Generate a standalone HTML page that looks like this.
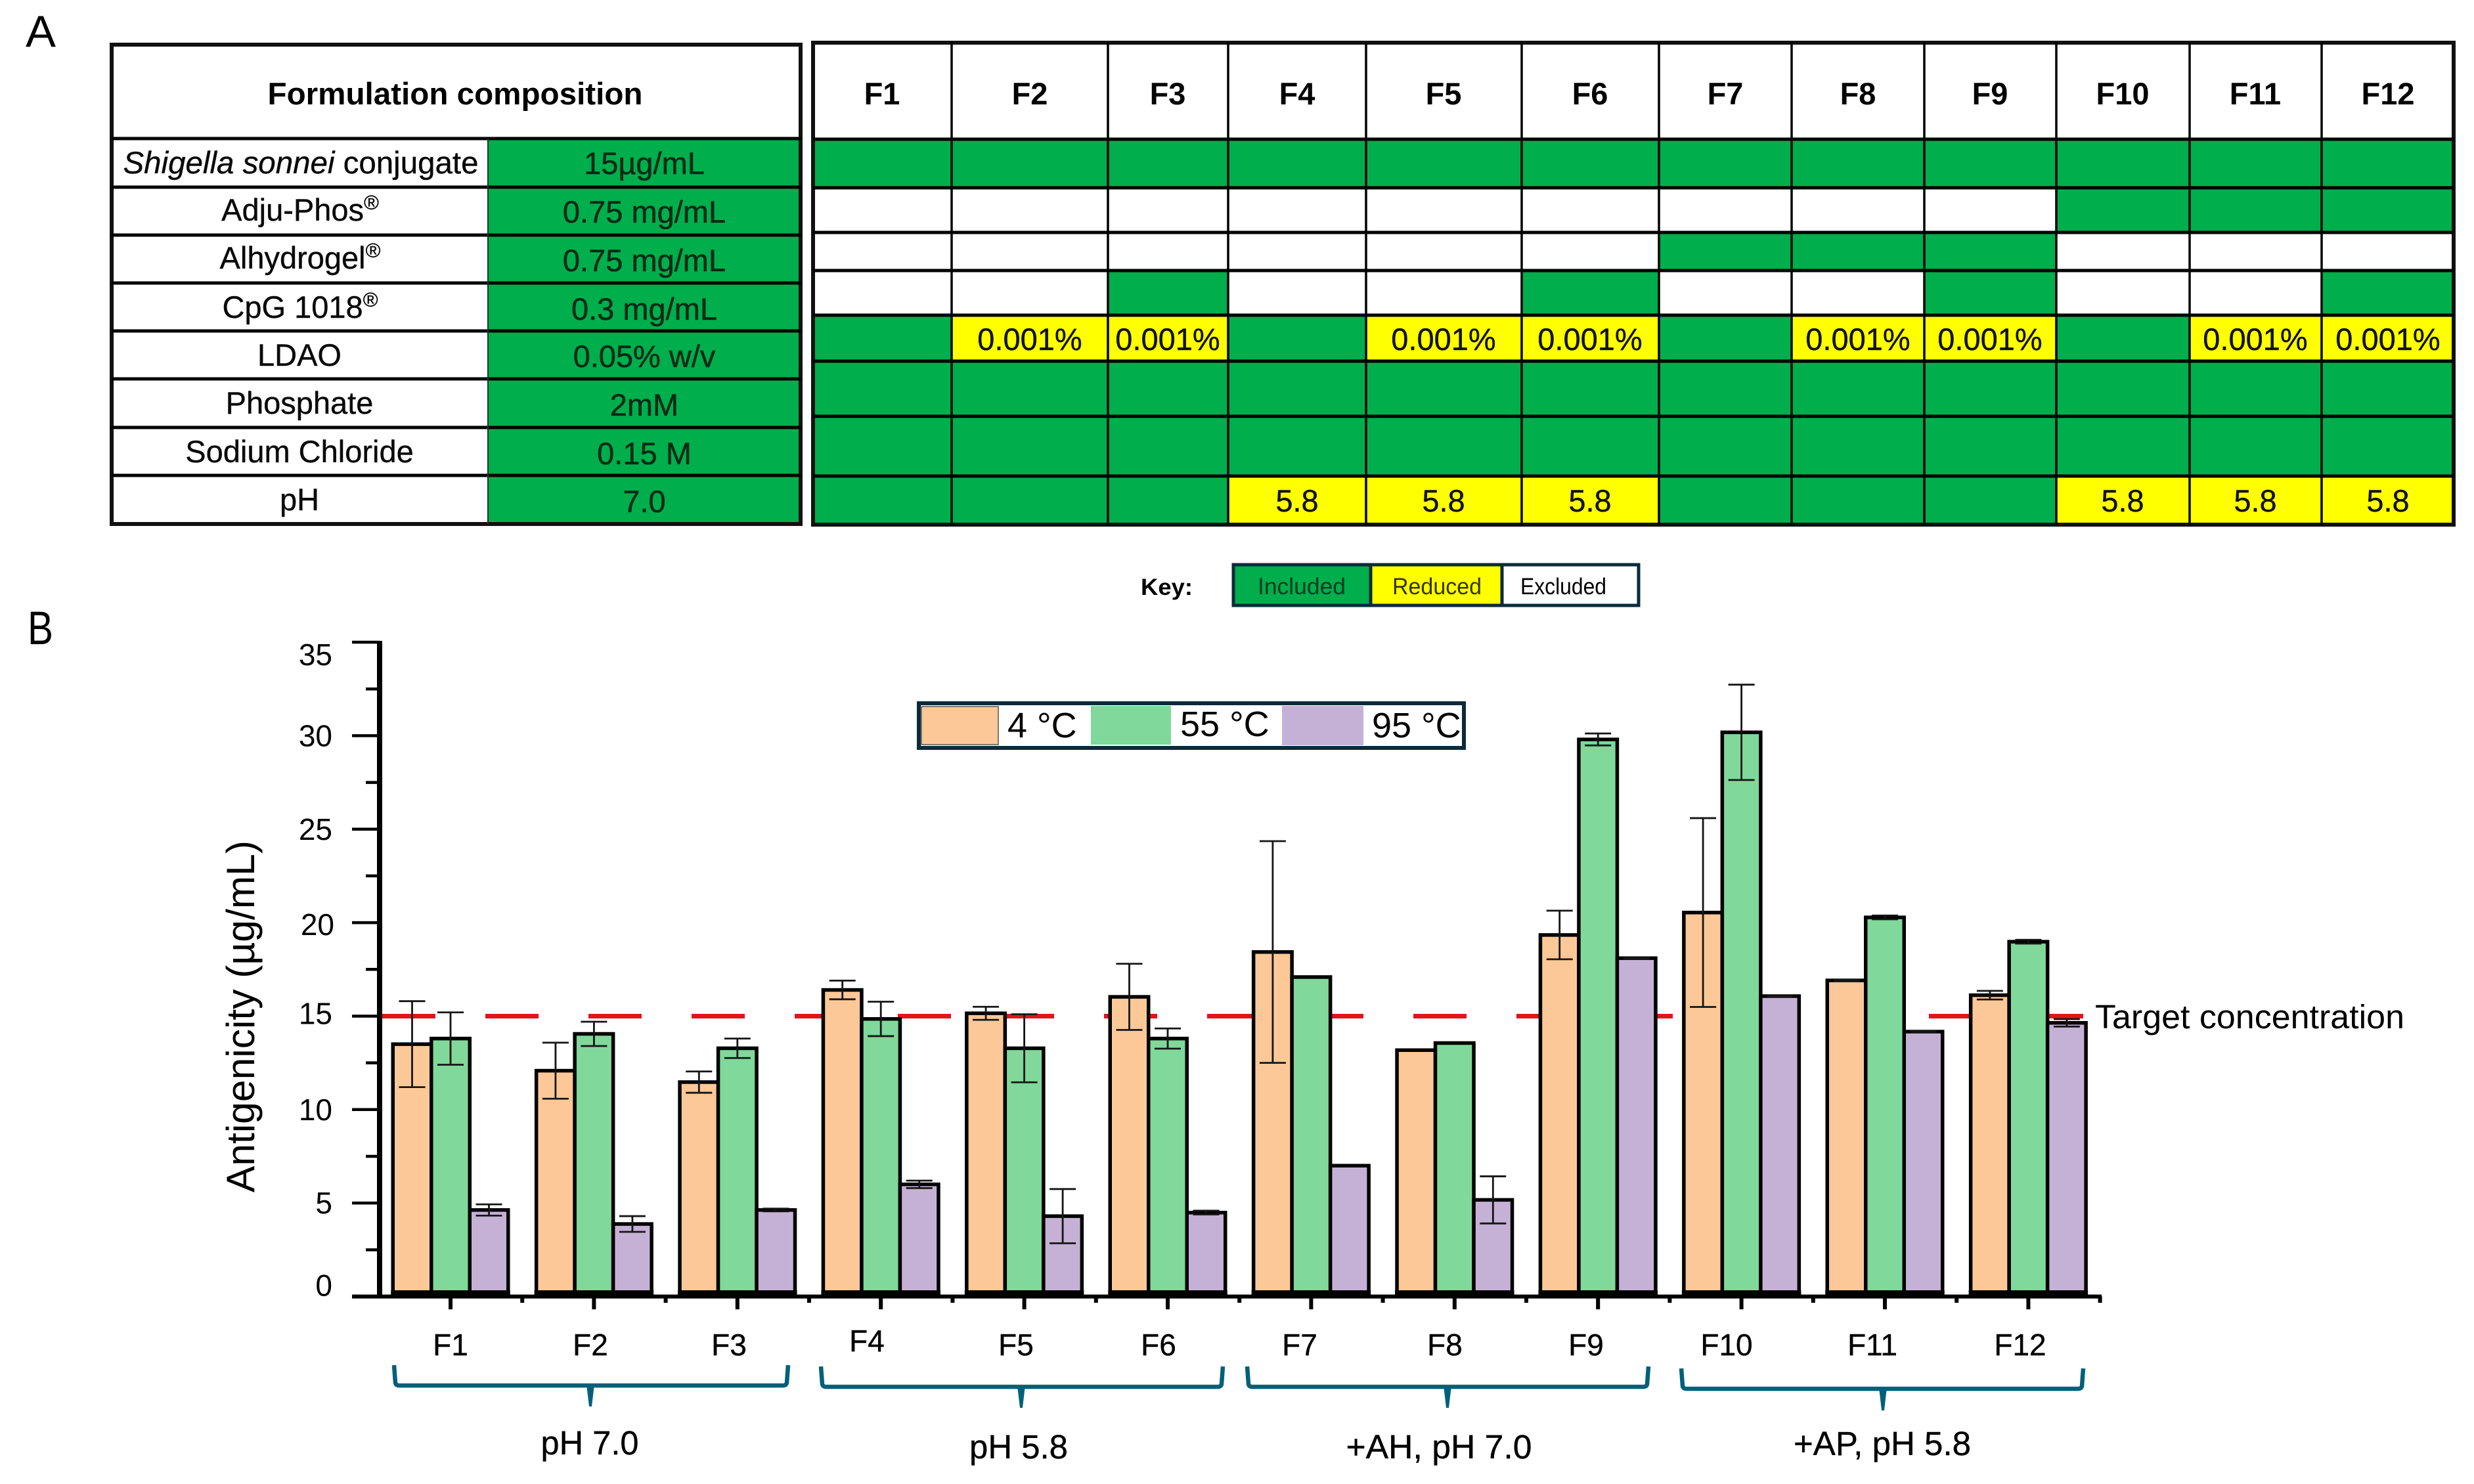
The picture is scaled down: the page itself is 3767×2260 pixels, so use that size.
<!DOCTYPE html>
<html lang="en">
<head>
<meta charset="utf-8">
<title>Formulation composition and antigenicity</title>
<style>
html,body{margin:0;padding:0;background:#fff;}
svg{display:block;font-family:"Liberation Sans",Arial,sans-serif;}
text{fill:#000;}
.rl{font-size:47px;text-anchor:middle;fill:#0a0a0a;stroke:#0a0a0a;stroke-width:.4;}
.rv{font-size:47px;text-anchor:middle;fill:#042a16;stroke:#042a16;stroke-width:.5;}
.hd{font-size:47px;font-weight:bold;text-anchor:middle;}
.yc{font-size:47px;text-anchor:middle;fill:#111;stroke:#111;stroke-width:.4;}
.gl{stroke:#000;stroke-width:5;fill:none;}
.xl{font-size:46px;text-anchor:middle;fill:#000;stroke:#000;stroke-width:.4;}
.grp{font-size:51px;text-anchor:middle;fill:#000;stroke:#000;stroke-width:.4;}
.br{stroke:#00607a;fill:none;stroke-width:6.5;}
.brt{fill:#00607a;stroke:none;}
.sup{font-size:31px;}
</style>
</head>
<body>
<svg id="figure" xmlns="http://www.w3.org/2000/svg" width="3767" height="2260" viewBox="0 0 3767 2260">
<rect x="0" y="0" width="3767" height="2260" fill="#fff"/>

<text x="39" y="71" font-size="68" textLength="46" lengthAdjust="spacingAndGlyphs">A</text>
<text x="42" y="981" font-size="71" textLength="39" lengthAdjust="spacingAndGlyphs">B</text>

<!-- Left composition table -->
<g>
<rect x="743" y="211" width="476" height="587" fill="#00ae4c"/>
<g>
<rect x="170" y="68" width="1049" height="730" fill="none" stroke="#111" stroke-width="6"/>
<line class="gl" stroke-width="6" x1="170" x2="1219" y1="211" y2="211"/>
<line class="gl" x1="170" x2="1219" y1="285" y2="285"/>
<line class="gl" x1="170" x2="1219" y1="358" y2="358"/>
<line class="gl" x1="170" x2="1219" y1="431" y2="431"/>
<line class="gl" x1="170" x2="1219" y1="504" y2="504"/>
<line class="gl" x1="170" x2="1219" y1="577" y2="577"/>
<line class="gl" x1="170" x2="1219" y1="651" y2="651"/>
<line class="gl" x1="170" x2="1219" y1="724" y2="724"/>
<line x1="743" x2="743" y1="211" y2="798" stroke="#0a3a20" stroke-width="2"/>
</g>
<text x="693" y="159" class="hd" textLength="571" lengthAdjust="spacingAndGlyphs">Formulation composition</text>
<text x="458" y="264" class="rl" textLength="541" lengthAdjust="spacingAndGlyphs"><tspan font-style="italic">Shigella sonnei</tspan> conjugate</text>
<text x="457" y="336" class="rl">Adju-Phos<tspan class="sup" dy="-17">®</tspan></text>
<text x="457" y="409" class="rl">Alhydrogel<tspan class="sup" dy="-17">®</tspan></text>
<text x="457" y="484" class="rl">CpG 1018<tspan class="sup" dy="-17">®</tspan></text>
<text x="456" y="557" class="rl">LDAO</text>
<text x="456" y="630" class="rl">Phosphate</text>
<text x="456" y="704" class="rl">Sodium Chloride</text>
<text x="456" y="777" class="rl">pH</text>
<text x="981" y="265" class="rv">15µg/mL</text>
<text x="981" y="339" class="rv">0.75 mg/mL</text>
<text x="981" y="413" class="rv">0.75 mg/mL</text>
<text x="981" y="487" class="rv">0.3 mg/mL</text>
<text x="981" y="559" class="rv">0.05% w/v</text>
<text x="981" y="633" class="rv">2mM</text>
<text x="981" y="707" class="rv">0.15 M</text>
<text x="981" y="780" class="rv">7.0</text>
</g>

<!-- Right formulation matrix -->
<g>
<g id="matrix-cells"></g>
<g>
<rect x="1238" y="65" width="2498" height="734" fill="none" stroke="#111" stroke-width="6"/>
<line class="gl" x1="1238" x2="3736" y1="212" y2="212"/>
<line class="gl" x1="1238" x2="3736" y1="286" y2="286"/>
<line class="gl" x1="1238" x2="3736" y1="354" y2="354"/>
<line class="gl" x1="1238" x2="3736" y1="412" y2="412"/>
<line class="gl" x1="1238" x2="3736" y1="480" y2="480"/>
<line class="gl" x1="1238" x2="3736" y1="550" y2="550"/>
<line class="gl" x1="1238" x2="3736" y1="634" y2="634"/>
<line class="gl" x1="1238" x2="3736" y1="725" y2="725"/>
<line class="gl" style="stroke-width:3.5" x1="1449" x2="1449" y1="65" y2="799"/>
<line class="gl" style="stroke-width:3.5" x1="1687" x2="1687" y1="65" y2="799"/>
<line class="gl" style="stroke-width:3.5" x1="1870" x2="1870" y1="65" y2="799"/>
<line class="gl" style="stroke-width:3.5" x1="2080" x2="2080" y1="65" y2="799"/>
<line class="gl" style="stroke-width:3.5" x1="2317" x2="2317" y1="65" y2="799"/>
<line class="gl" style="stroke-width:3.5" x1="2526" x2="2526" y1="65" y2="799"/>
<line class="gl" style="stroke-width:3.5" x1="2728" x2="2728" y1="65" y2="799"/>
<line class="gl" style="stroke-width:3.5" x1="2930" x2="2930" y1="65" y2="799"/>
<line class="gl" style="stroke-width:3.5" x1="3131" x2="3131" y1="65" y2="799"/>
<line class="gl" style="stroke-width:3.5" x1="3334" x2="3334" y1="65" y2="799"/>
<line class="gl" style="stroke-width:3.5" x1="3535" x2="3535" y1="65" y2="799"/>
</g>
<text x="1343" y="159" class="hd">F1</text>
<text x="1568" y="159" class="hd">F2</text>
<text x="1778" y="159" class="hd">F3</text>
<text x="1975" y="159" class="hd">F4</text>
<text x="2198" y="159" class="hd">F5</text>
<text x="2421" y="159" class="hd">F6</text>
<text x="2627" y="159" class="hd">F7</text>
<text x="2829" y="159" class="hd">F8</text>
<text x="3030" y="159" class="hd">F9</text>
<text x="3232" y="159" class="hd">F10</text>
<text x="3434" y="159" class="hd">F11</text>
<text x="3636" y="159" class="hd">F12</text>
<text x="1568" y="533" class="yc">0.001%</text>
<text x="1778" y="533" class="yc">0.001%</text>
<text x="2198" y="533" class="yc">0.001%</text>
<text x="2421" y="533" class="yc">0.001%</text>
<text x="2829" y="533" class="yc">0.001%</text>
<text x="3030" y="533" class="yc">0.001%</text>
<text x="3434" y="533" class="yc">0.001%</text>
<text x="3636" y="533" class="yc">0.001%</text>
<text x="1975" y="779" class="yc">5.8</text>
<text x="2198" y="779" class="yc">5.8</text>
<text x="2421" y="779" class="yc">5.8</text>
<text x="3232" y="779" class="yc">5.8</text>
<text x="3434" y="779" class="yc">5.8</text>
<text x="3636" y="779" class="yc">5.8</text>
</g>

<!-- Key -->
<g>
<text x="1737" y="906" font-size="35" font-weight="bold" textLength="79" lengthAdjust="spacingAndGlyphs" fill="#222">Key:</text>
<rect x="1878" y="860" width="209" height="62" fill="#00ae4c" stroke="#0b2b3a" stroke-width="5"/>
<rect x="2087" y="860" width="200" height="62" fill="#ffff00" stroke="#0b2b3a" stroke-width="5"/>
<rect x="2287" y="860" width="208" height="62" fill="#fff" stroke="#0b2b3a" stroke-width="5"/>
<text x="1915" y="905" font-size="35" textLength="134" lengthAdjust="spacingAndGlyphs" style="fill:#083a20">Included</text>
<text x="2120" y="905" font-size="35" textLength="136" lengthAdjust="spacingAndGlyphs" style="fill:#333300">Reduced</text>
<text x="2315" y="905" font-size="35" textLength="131" lengthAdjust="spacingAndGlyphs">Excluded</text>
</g>

<!-- Bar chart -->
<g id="chart">
<text transform="translate(387,1548) rotate(-90)" font-size="60" text-anchor="middle" textLength="536" lengthAdjust="spacingAndGlyphs">Antigenicity (µg/mL)</text>
<g id="target-layer"></g>
<g id="bar-layer"></g>
<g id="error-layer"></g>
<g id="axis-layer"></g>
<text x="3190" y="1566" font-size="51" textLength="471" lengthAdjust="spacingAndGlyphs">Target concentration</text>

<g>
<text x="686" y="2064" class="xl">F1</text>
<text x="899" y="2064" class="xl">F2</text>
<text x="1110" y="2064" class="xl">F3</text>
<text x="1320" y="2058" class="xl">F4</text>
<text x="1547" y="2064" class="xl">F5</text>
<text x="1764" y="2064" class="xl">F6</text>
<text x="1979" y="2064" class="xl">F7</text>
<text x="2200" y="2064" class="xl">F8</text>
<text x="2415" y="2064" class="xl">F9</text>
<text x="2629" y="2064" class="xl">F10</text>
<text x="2851" y="2064" class="xl">F11</text>
<text x="3076" y="2064" class="xl">F12</text>
</g>

<g>
<g>
<path class="br" d="M600,2079 L602,2106 Q603,2110 608,2110 L1192,2110 Q1197,2110 1198,2106 L1200,2079"/>
<polygon class="brt" points="893,2108 905,2108 901,2142 897,2142"/>
</g>
<g>
<path class="br" d="M1250,2081 L1252,2108 Q1253,2112 1258,2112 L1854,2112 Q1859,2112 1860,2108 L1862,2081"/>
<polygon class="brt" points="1549,2110 1561,2110 1557,2144 1553,2144"/>
</g>
<g>
<path class="br" d="M1899,2081 L1901,2108 Q1902,2112 1907,2112 L2502,2112 Q2507,2112 2508,2108 L2510,2081"/>
<polygon class="brt" points="2198,2110 2210,2110 2206,2144 2202,2144"/>
</g>
<g>
<path class="br" d="M2560,2084 L2562,2111 Q2563,2115 2568,2115 L3164,2115 Q3169,2115 3170,2111 L3172,2084"/>
<polygon class="brt" points="2861,2113 2873,2113 2869,2148 2865,2148"/>
</g>
</g>
<text x="898" y="2215" class="grp" textLength="149" lengthAdjust="spacingAndGlyphs">pH 7.0</text>
<text x="1551" y="2221" class="grp" textLength="150" lengthAdjust="spacingAndGlyphs">pH 5.8</text>
<text x="2191" y="2221" class="grp" textLength="283" lengthAdjust="spacingAndGlyphs">+AH, pH 7.0</text>
<text x="2866" y="2216" class="grp" textLength="270" lengthAdjust="spacingAndGlyphs">+AP, pH 5.8</text>

<g>
<rect x="1399" y="1071" width="830" height="68" fill="#fff" stroke="#0b2b3a" stroke-width="6"/>
<rect x="1403" y="1076" width="117" height="58" fill="#fdc897" stroke="#555" stroke-width="1.5"/>
<text x="1534" y="1123" font-size="54">4 °C</text>
<rect x="1661" y="1075" width="122" height="59" fill="#80d89a"/>
<text x="1797" y="1121" font-size="54">55 °C</text>
<rect x="1952" y="1075" width="124" height="60" fill="#c5b1d6"/>
<text x="2089" y="1123" font-size="54">95 °C</text>
</g>
</g>
</svg>

<script>
// Chart data (µg/mL)
const categories = ["F1","F2","F3","F4","F5","F6","F7","F8","F9","F10","F11","F12"];
const seriesNames = ["4 °C","55 °C","95 °C"];
const values4C  = [13.5,12.08,11.47,16.4,15.15,16.03,18.43,13.18,19.34,20.54,16.91,16.12];
const values55C = [13.8,14.05,13.28,14.85,13.28,13.8,17.09,13.56,29.8,30.18,20.28,18.98];
const values95C = [4.63,3.88,4.63,6.0,4.3,4.49,7.0,5.17,18.1,16.07,14.17,14.64];
const errors4C  = [2.3,1.5,0.57,0.5,0.35,1.77,5.93,0,1.3,5.05,0.03,0.23];
const errors55C = [1.4,0.65,0.52,0.92,1.82,0.54,0,0,0.32,2.55,0.1,0.1];
const errors95C = [0.3,0.42,0.07,0.2,1.45,0.1,0,1.26,0.02,0.02,0.03,0.2];
const yMajorTicks = [0,5,10,15,20,25,30,35];
const yMinorTicks = [2.5,7.5,12.5,17.5,22.5,27.5,32.5];
const targetValue = [15];

// Matrix states: G included, Y reduced, W excluded
const matrixStates = [
  "GGGGGGGGGGGG",
  "WWWWWWWWWGGG",
  "WWWWWWGGGWWW",
  "WWGWWGWWGWWG",
  "GYYGYYGYYGYY",
  "GGGGGGGGGGGG",
  "GGGGGGGGGGGG",
  "GGGYYYGGGYYY"
];

const NS = "http://www.w3.org/2000/svg";
function make(tag, attrs, parent) {
  const e = document.createElementNS(NS, tag);
  for (const k in attrs) e.setAttribute(k, attrs[k]);
  parent.appendChild(e);
  return e;
}

// Axis functions
function yScale(v) { return 1974.5 - v * 28.47; }
function xCenter(i) { return 686 + i * 218.4; }
const barWidth = 58.5;
function barLeft(i, s) { return xCenter(i) + (s - 1.5) * barWidth; }

// Matrix cells
const matrixColumns = [1238,1449,1687,1870,2080,2317,2526,2728,2930,3131,3334,3535,3736];
const matrixRows = [212,286,354,412,480,550,634,725,799];
const stateFill = { G: "#00ae4c", Y: "#ffff00", W: "#ffffff" };
const cellLayer = document.getElementById("matrix-cells");
matrixStates.forEach(function (row, r) {
  row.split("").forEach(function (st, c) {
    const cell = make("rect", {
      x: matrixColumns[c], y: matrixRows[r],
      width: matrixColumns[c + 1] - matrixColumns[c],
      height: matrixRows[r + 1] - matrixRows[r],
      fill: stateFill[st]
    }, cellLayer);
    
    
  });
});

// Target line
const targetLayer = document.getElementById("target-layer");
const targetLine = make("line", {
  x1: 582, x2: 3172, y1: yScale(targetValue[0]), y2: yScale(targetValue[0]),
  stroke: "#e2141c", "stroke-width": 7, "stroke-dasharray": "81 76"
}, targetLayer);



// Bars
const barLayer = document.getElementById("bar-layer");
const errorLayer = document.getElementById("error-layer");
const seriesValues = [values4C, values55C, values95C];
const seriesErrors = [errors4C, errors55C, errors95C];
const seriesFill = ["#fdc897", "#80d89a", "#c5b1d6"];
categories.forEach(function (cat, i) {
  seriesNames.forEach(function (sn, s) {
    const v = seriesValues[s][i];
    const top = yScale(v);
    const bar = make("rect", {
      x: barLeft(i, s), y: top, width: barWidth, height: 1970 - top,
      fill: seriesFill[s], stroke: "#000", "stroke-width": 5.5
    }, barLayer);
    
    
    const err = seriesErrors[s][i];
    if (err > 0) {
      const cx = barLeft(i, s) + barWidth / 2;
      const hi = yScale(v + err), lo = yScale(v - err);
      const eb = make("path", {
        d: "M" + cx + "," + hi + "V" + lo + "M" + (cx - 20) + "," + hi + "H" + (cx + 20) + "M" + (cx - 20) + "," + lo + "H" + (cx + 20),
        fill: "none", stroke: "#151515", "stroke-width": 2.8
      }, errorLayer);
      
      
    }
  });
  const band = make("rect", {
    x: barLeft(i, 0) - 3, y: 1965, width: barWidth * 3 + 6, height: 8, fill: "#000"
  }, barLayer);
  
  
});

// Axes
const axisLayer = document.getElementById("axis-layer");
const yAxisLine = make("line", { x1: 578, x2: 578, y1: yScale(35) - 2, y2: 1977, stroke: "#000", "stroke-width": 8 }, axisLayer);


const xAxisLine = make("line", { x1: 536, x2: 3200, y1: 1974.5, y2: 1974.5, stroke: "#000", "stroke-width": 6 }, axisLayer);


yMajorTicks.forEach(function (v) {
  const t = make("line", { x1: 536, x2: 578, y1: yScale(v), y2: yScale(v), stroke: "#000", "stroke-width": 4.5 }, axisLayer);
  
  
  const shift = v === 35 ? 19 : v === 0 ? -17 : v === 15 ? -4 : v === 20 ? 3 : 0;
  const label = make("text", { x: v === 20 ? 509 : 506, y: yScale(v) + 16 + shift, "font-size": 46, "text-anchor": "end" }, axisLayer);
  label.textContent = String(v);
  
  
});
yMinorTicks.forEach(function (v) {
  const t = make("line", { x1: 557, x2: 578, y1: yScale(v), y2: yScale(v), stroke: "#000", "stroke-width": 4.5 }, axisLayer);
  
  
});
categories.forEach(function (cat, i) {
  const major = make("line", { x1: xCenter(i), x2: xCenter(i), y1: 1974, y2: 1994, stroke: "#000", "stroke-width": 6 }, axisLayer);
  
  
  const mx = xCenter(i) + 109.2;
  const minor = make("line", { x1: mx, x2: mx, y1: 1974, y2: 1984, stroke: "#000", "stroke-width": 6 }, axisLayer);
  
  
});
</script>
</body>
</html>
